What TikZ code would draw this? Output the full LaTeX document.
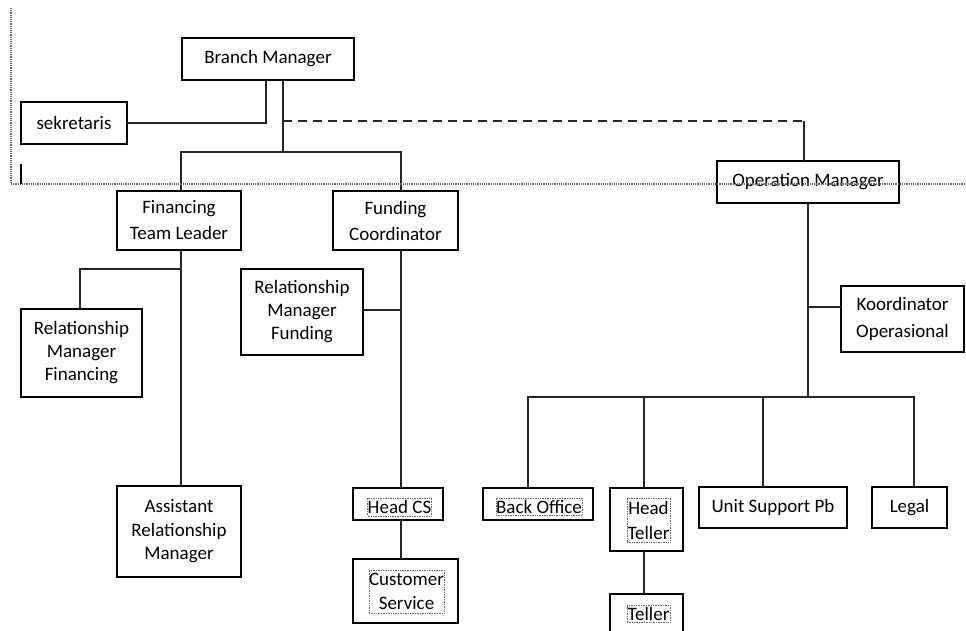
\documentclass[tikz,border=0pt]{standalone}
\usepackage{fontspec}
\setmainfont{Carlito}
\begin{document}
\begin{tikzpicture}[x=1pt,y=-1pt,
  box/.style={draw=black, line width=1.2pt, inner sep=0pt, outer sep=0pt, align=center,
    font=\fontsize{19}{23}\selectfont},
  ls/.style={font=\fontsize{19}{#1}\selectfont},
  conn/.style={draw=black!85, line width=1.1pt},
  tframe/.style={draw=black!60, densely dotted, line width=0.7pt, inner sep=0pt, outer sep=0pt,
    align=center, font=\fontsize{19}{23}\selectfont},
  pageline/.style={draw=black!60, densely dotted, line width=1.2pt}]
\useasboundingbox (0,0) rectangle (966,630);

% boxes with text
\node[box, minimum width=172, minimum height=42] (bm) at (268,59) {Branch Manager};
\node[box, minimum width=106, minimum height=42] (sek) at (74,123) {sekretaris};
\node[box, ls=26, minimum width=124, minimum height=59] (ftl) at (179,220.5) {Financing\\Team Leader};
\node[box, ls=26, minimum width=125, minimum height=59] (fc) at (395.5,220.5) {Funding\\Coordinator};
\node[box, minimum width=182, minimum height=42] (om) at (808,182) {Operation Manager};
\node[box, ls=23, minimum width=121, minimum height=88] (rmf) at (81.5,353) {Relationship\\Manager\\Financing};
\node[box, ls=23, minimum width=122, minimum height=86] (rmfu) at (302,312) {Relationship\\Manager\\Funding};
\node[box, ls=27, minimum width=123, minimum height=66] (ko) at (902.5,319) {Koordinator\\Operasional};
\node[box, ls=23.5, minimum width=124, minimum height=91] (arm) at (179,531.5) {Assistant\\Relationship\\Manager};
\node[box, minimum width=148, minimum height=41] (usp) at (773,507.5) {Unit Support Pb};
\node[box, minimum width=75, minimum height=41] (legal) at (909.5,507.5) {Legal};

% boxes whose text sits in a dotted frame
\node[box, minimum width=90, minimum height=32] (hcs) at (398,504) {};
\node[box, minimum width=105, minimum height=64] (cs) at (405.5,591) {};
\node[box, minimum width=110, minimum height=32] (bo) at (538,504) {};
\node[box, minimum width=73, minimum height=63] (ht) at (646.5,519.5) {};
\node[box, minimum width=73, minimum height=46] (teller) at (646.5,617) {};

\node[tframe, minimum width=63, minimum height=18] (hcst) at (399.5,507) {Head CS};
\node[tframe, font=\fontsize{19}{24}\selectfont, minimum width=75, minimum height=43] (cst) at (406.5,591.5) {Customer\\Service};
\node[tframe, minimum width=86, minimum height=17] (bot) at (539,506.5) {Back Office};
\node[tframe, font=\fontsize{19}{25}\selectfont, minimum width=43, minimum height=44] (htt) at (648.5,520) {Head\\Teller};
\node[tframe, minimum width=43, minimum height=17] (tellert) at (648.5,613.5) {Teller};

% junctions
\coordinate (j1) at (283,152);
\coordinate (d0) at (283,121);
\coordinate (d1) at (804,121);
\coordinate (j2) at (181,269);
\coordinate (j3) at (808,397);
\coordinate (fcs) at ([xshift=5.5pt]fc.south);
\coordinate (htn) at ([xshift=-2.5pt]ht.north);
\coordinate (uspn) at ([xshift=-10pt]usp.north);

% connectors
\draw[conn] (sek.east) -| ([xshift=-2pt]bm.south);
\draw[conn] ([xshift=15pt]bm.south) -- (j1);
\draw[conn] ([xshift=2pt]ftl.north) |- (j1) -| ([xshift=5.5pt]fc.north);
\draw[conn, dash pattern=on 9pt off 6pt] (d0) -- (d1);
\draw[conn] (d1) -- (d1 |- om.north);
\draw[conn] ([xshift=2pt]ftl.south) -- ([xshift=2pt]arm.north);
\draw[conn] (j2) -| ([xshift=-1.5pt]rmf.north);
\draw[conn] (fcs) -- ([xshift=3pt]hcs.north);
\draw[conn] ([yshift=2pt]rmfu.east) -- ([yshift=2pt]rmfu.east -| fcs);
\draw[conn] ([xshift=3pt]hcs.south) -- ([xshift=-4.5pt]cs.north);
\draw[conn] (om.south) -- (j3);
\draw[conn] ([yshift=12pt]ko.west) -- ([yshift=12pt]ko.west -| j3);
\draw[conn] ([xshift=-10pt]bo.north) |- (j3) -| ([xshift=4.5pt]legal.north);
\draw[conn] (htn) -- (htn |- j3);
\draw[conn] (uspn) -- (uspn |- j3);
\draw[conn] ([xshift=-2.5pt]ht.south) -- ([xshift=-2.5pt]teller.north);

% page edges and cursor of the editor
\draw[pageline] (11,8) -- (11,184) -- (966,184);
\draw[line width=2pt] (21,164) -- (21,184);
\end{tikzpicture}
\end{document}
